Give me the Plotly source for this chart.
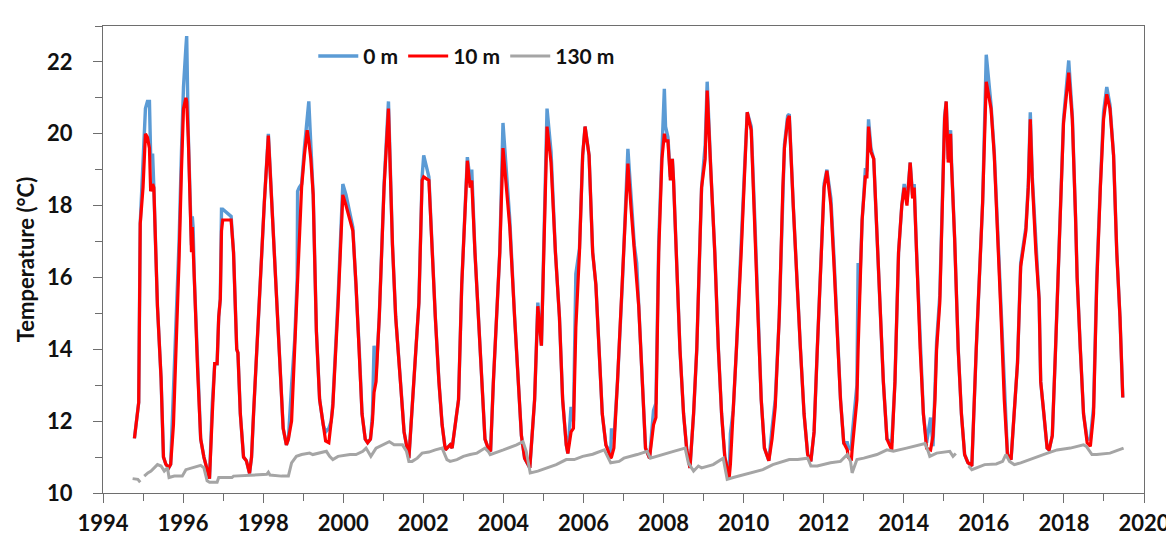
import plotly.graph_objects as go

# ---- Surface (0 m) and 10 m series: decimal year, temperature (degC) ----
years_surface = [
    1994.785, 1994.892, 1994.93, 1995.00, 1995.06, 1995.11, 1995.16, 1995.19, 1995.24, 1995.27, 1995.36, 1995.45, 1995.51, 1995.57, 1995.64, 1995.69,
    1995.76, 1995.83, 1995.90, 1995.96, 1996.01, 1996.07, 1996.09, 1996.13, 1996.19, 1996.21, 1996.23, 1996.25, 1996.28, 1996.36, 1996.44, 1996.52, 1996.60, 1996.66,
    1996.73, 1996.79, 1996.85, 1996.89, 1996.93, 1996.96, 1996.99, 1997.10, 1997.20, 1997.26, 1997.32, 1997.34, 1997.37, 1997.43, 1997.51, 1997.58, 1997.66,
    1997.71, 1997.76, 1997.87, 1997.95, 1998.03, 1998.13, 1998.22, 1998.30, 1998.38, 1998.45, 1998.50, 1998.58,
    1998.63, 1998.71, 1998.79, 1998.85, 1998.86, 1998.90, 1998.96, 1999.03, 1999.10, 1999.14, 1999.19, 1999.25, 1999.33, 1999.41, 1999.50, 1999.56, 1999.64,
    1999.70, 1999.74, 1999.87, 1999.99, 2000.07, 2000.24, 2000.32, 2000.40, 2000.47, 2000.55, 2000.61,
    2000.68, 2000.73, 2000.77, 2000.82, 2000.90, 2001.02, 2001.13, 2001.23, 2001.31, 2001.43, 2001.52, 2001.64,
    2001.72, 2001.81, 2001.89, 2001.97, 2002.01, 2002.14, 2002.22, 2002.30, 2002.39, 2002.47, 2002.55, 2002.67, 2002.72,
    2002.88, 2002.96, 2003.05, 2003.10, 2003.17, 2003.21, 2003.29, 2003.38, 2003.46, 2003.54, 2003.62, 2003.68,
    2003.75, 2003.83, 2003.91, 2003.99, 2004.08, 2004.16, 2004.28, 2004.37, 2004.45, 2004.53, 2004.66,
    2004.78, 2004.86, 2004.95, 2005.03, 2005.09, 2005.19, 2005.30, 2005.40, 2005.48, 2005.57, 2005.61,
    2005.69, 2005.75, 2005.81, 2005.90, 2005.98, 2006.04, 2006.14, 2006.23, 2006.31, 2006.39, 2006.47, 2006.56,
    2006.68, 2006.70, 2006.76, 2006.85, 2006.97, 2007.11, 2007.19, 2007.27, 2007.33, 2007.38, 2007.46, 2007.55, 2007.65,
    2007.75, 2007.81, 2007.88, 2007.96, 2008.02, 2008.05, 2008.11, 2008.17, 2008.22, 2008.25, 2008.33, 2008.41, 2008.50, 2008.58, 2008.66,
    2008.75, 2008.83, 2008.95, 2009.04, 2009.09, 2009.18, 2009.28, 2009.37, 2009.45, 2009.53, 2009.64,
    2009.67, 2009.74, 2009.82, 2009.94, 2010.03, 2010.09, 2010.19, 2010.28, 2010.36, 2010.44, 2010.52, 2010.63,
    2010.71, 2010.79, 2010.89, 2010.98, 2011.02, 2011.10, 2011.14, 2011.24, 2011.32, 2011.42, 2011.51, 2011.60, 2011.68,
    2011.76, 2011.84, 2011.93, 2012.01, 2012.08, 2012.18, 2012.26, 2012.34, 2012.42, 2012.50, 2012.59, 2012.61, 2012.69,
    2012.71, 2012.83, 2012.86, 2012.88, 2012.96, 2013.04, 2013.08, 2013.12, 2013.18, 2013.25, 2013.33, 2013.41, 2013.49, 2013.58, 2013.70,
    2013.78, 2013.87, 2013.95, 2014.01, 2014.08, 2014.12, 2014.16, 2014.22, 2014.26, 2014.32, 2014.41, 2014.49, 2014.57, 2014.67,
    2014.73, 2014.78, 2014.82, 2014.90, 2014.98, 2015.02, 2015.06, 2015.11, 2015.17, 2015.19, 2015.27, 2015.36, 2015.44, 2015.52, 2015.60,
    2015.70, 2015.81, 2015.89, 2015.97, 2016.06, 2016.18, 2016.26, 2016.35, 2016.43, 2016.51, 2016.59, 2016.68,
    2016.76, 2016.84, 2016.92, 2017.05, 2017.11, 2017.16, 2017.21, 2017.30, 2017.38, 2017.42, 2017.50, 2017.58, 2017.63,
    2017.71, 2017.79, 2017.87, 2017.99, 2018.12, 2018.21, 2018.29, 2018.33, 2018.41, 2018.49, 2018.58, 2018.66,
    2018.74, 2018.82, 2018.91, 2018.99, 2019.07, 2019.15, 2019.24, 2019.32, 2019.40, 2019.47,
]

temp_10m = [
    11.52, 12.52, 17.5, 18.5, 20.0, 19.9, 19.6, 18.4, 18.6, 18.5, 15.2, 13.2, 11.0, 10.8, 10.7, 10.8,
    11.9, 14.0, 16.5, 19.0, 20.7, 21.0, 20.9, 19.9, 17.7, 16.7, 17.4, 17.0, 16.0, 13.5, 11.5, 11.0, 10.7, 10.4,
    12.2, 13.6, 13.6, 14.9, 15.4, 17.3, 17.6, 17.6, 17.6, 16.7, 14.1, 14.0, 13.9, 12.2, 11.0, 10.9, 10.55,
    11.0, 12.2, 14.6, 16.7, 18.1, 19.95, 18.0, 16.2, 14.5, 12.7, 11.8, 11.34,
    11.5, 12.0, 14.0, 15.8, 16.0, 17.2, 18.5, 19.4, 20.1, 19.8, 19.3, 18.3, 14.5, 12.6, 11.9, 11.45, 11.4,
    11.9, 12.4, 15.2, 18.3, 18.0, 17.3, 15.8, 14.0, 12.2, 11.5, 11.4,
    11.5, 12.0, 12.8, 13.1, 14.9, 18.5, 20.7, 16.9, 14.9, 13.1, 11.7, 10.97,
    12.3, 14.0, 15.3, 18.7, 18.8, 18.7, 16.7, 14.9, 13.1, 11.9, 11.2, 11.34, 11.25,
    12.6, 15.8, 18.1, 19.25, 18.5, 18.7, 16.7, 14.9, 13.1, 11.5, 11.25, 11.16,
    13.1, 14.9, 16.7, 19.6, 18.5, 17.4, 14.9, 13.1, 11.6, 10.97, 10.70,
    12.6, 15.2, 14.1, 17.6, 20.2, 19.2, 16.7, 14.9, 12.6, 11.34, 11.1,
    11.7, 11.8, 14.6, 16.7, 19.4, 20.2, 19.4, 16.7, 15.8, 14.0, 12.2, 11.34,
    10.97, 11.0, 11.25, 13.1, 15.8, 19.17, 17.9, 16.6, 15.9, 15.2, 13.1, 11.25, 10.97,
    11.9, 12.1, 16.7, 19.3, 20.0, 19.8, 19.8, 18.7, 19.3, 18.7, 16.3, 14.0, 12.2, 11.2, 10.7,
    12.2, 14.0, 18.5, 19.3, 21.2, 19.0, 16.7, 14.0, 12.2, 11.0, 10.43,
    10.8, 12.2, 14.0, 16.7, 19.2, 20.6, 20.1, 17.6, 14.9, 12.6, 11.25, 10.9,
    11.5, 12.4, 14.9, 18.5, 19.6, 20.4, 20.5, 18.0, 16.1, 14.0, 12.2, 11.07, 10.88,
    11.7, 14.0, 16.7, 18.5, 18.97, 18.0, 16.3, 14.4, 12.6, 11.4, 11.2, 11.0, 10.9,
    11.2, 12.6, 14.0, 14.9, 17.6, 18.8, 18.8, 20.2, 19.5, 19.3, 17.2, 14.9, 13.1, 11.5, 11.2,
    13.1, 16.7, 18.0, 18.5, 18.0, 18.5, 19.2, 18.2, 18.5, 16.7, 14.0, 12.2, 11.25, 11.2,
    11.6, 12.6, 14.0, 15.3, 18.5, 20.4, 20.9, 19.2, 20.0, 19.2, 17.1, 14.0, 12.2, 11.07, 10.85,
    10.75, 14.0, 16.3, 18.1, 21.45, 20.7, 19.4, 17.2, 14.9, 12.6, 11.07, 10.93,
    12.2, 13.6, 16.3, 17.3, 18.5, 20.4, 18.7, 16.7, 15.4, 13.1, 12.2, 11.25, 11.2,
    11.6, 13.98, 16.7, 20.3, 21.7, 20.4, 17.7, 16.0, 14.0, 12.2, 11.4, 11.3,
    12.2, 15.8, 18.5, 20.4, 21.1, 20.7, 19.4, 16.7, 14.9, 12.66,
]

temp_0m = [
    11.52, 12.52, 17.5, 19.2, 20.7, 20.9, 20.9, 19.4, 19.4, 18.5, 15.2, 13.2, 11.0, 10.8, 10.7, 10.8,
    12.8, 14.6, 17.0, 19.5, 21.3, 22.4, 22.72, 20.0, 17.7, 16.9, 17.7, 17.4, 16.0, 13.5, 11.5, 11.0, 10.7, 10.4,
    12.5, 13.6, 13.6, 14.9, 15.4, 17.9, 17.9, 17.8, 17.7, 16.7, 14.1, 14.0, 13.9, 12.2, 11.0, 10.9, 10.55,
    11.0, 12.2, 14.6, 16.7, 18.1, 20.0, 18.0, 16.2, 14.5, 12.7, 11.8, 11.34,
    11.5, 13.0, 14.3, 16.0, 18.4, 18.5, 18.6, 19.6, 20.5, 20.9, 19.7, 18.3, 14.5, 12.6, 11.9, 11.7, 11.8,
    12.0, 12.5, 15.4, 18.6, 18.3, 17.4, 15.8, 14.0, 12.2, 11.5, 11.4,
    11.5, 12.2, 14.1, 13.3, 14.9, 18.6, 20.9, 16.9, 14.9, 13.1, 11.7, 10.97,
    12.3, 14.0, 15.3, 18.8, 19.4, 18.8, 16.7, 14.9, 13.1, 11.9, 11.2, 11.34, 11.25,
    12.6, 15.8, 18.1, 19.35, 18.7, 19.0, 16.7, 14.9, 13.1, 11.5, 11.25, 11.16,
    13.1, 14.9, 16.7, 20.3, 18.8, 17.6, 14.9, 13.1, 11.6, 10.97, 10.70,
    12.6, 15.3, 14.1, 17.6, 20.7, 19.5, 16.7, 14.9, 12.6, 11.34, 11.1,
    12.4, 12.0, 16.1, 16.8, 19.4, 20.2, 19.4, 16.7, 15.8, 14.0, 12.2, 11.34,
    11.1, 11.8, 11.5, 13.1, 15.8, 19.58, 18.2, 16.9, 16.4, 15.2, 13.1, 11.25, 10.97,
    12.3, 12.5, 17.0, 19.5, 21.25, 20.2, 19.9, 18.8, 19.3, 18.7, 16.3, 14.0, 12.2, 11.2, 10.7,
    12.2, 14.0, 18.5, 19.7, 21.45, 19.0, 16.7, 14.0, 12.2, 11.0, 10.5,
    11.65, 12.3, 14.0, 16.7, 19.2, 20.6, 20.2, 17.6, 14.9, 12.6, 11.25, 10.9,
    11.8, 12.6, 14.9, 18.5, 19.7, 20.5, 20.55, 18.0, 16.1, 14.0, 12.2, 11.07, 10.88,
    11.7, 14.0, 16.7, 18.6, 19.0, 18.2, 16.5, 14.4, 12.6, 11.4, 11.4, 11.3, 11.2,
    11.6, 13.0, 16.4, 15.2, 17.6, 19.0, 19.0, 20.4, 19.6, 19.3, 17.2, 14.9, 13.1, 11.5, 11.4,
    13.1, 16.7, 18.0, 18.6, 18.1, 18.6, 19.2, 18.3, 18.6, 16.7, 14.0, 12.2, 11.4, 12.1,
    11.3, 12.8, 14.2, 15.5, 18.6, 20.5, 20.9, 19.3, 20.1, 19.3, 17.1, 14.0, 12.2, 11.07, 10.85,
    10.75, 14.0, 16.3, 18.1, 22.2, 20.8, 19.5, 17.2, 14.9, 12.6, 11.07, 10.93,
    12.2, 13.6, 16.4, 17.4, 18.6, 20.6, 18.8, 16.8, 15.4, 13.1, 12.2, 11.25, 11.2,
    11.6, 13.98, 16.8, 20.4, 22.04, 20.5, 17.7, 16.0, 14.0, 12.2, 11.5, 11.5,
    12.4, 16.0, 18.6, 20.6, 21.3, 20.8, 19.4, 16.7, 14.9, 12.66,
]

# ---- 130 m series (None = gap in record) ----
years_130m = [
    1994.74, 1994.87, 1994.93, 1994.98, 1995.03, 1995.12, 1995.20, 1995.28, 1995.36, 1995.45, 1995.53, 1995.61, 1995.65,
    1995.78, 1995.98, 1996.07, 1996.23, 1996.44, 1996.52, 1996.60, 1996.66, 1996.85, 1996.89, 1997.22, 1997.26,
    1998.09, 1998.13, 1998.17, 1998.46, 1998.63, 1998.71, 1998.83, 1998.96, 1999.16, 1999.24, 1999.41, 1999.58,
    1999.66, 1999.74, 1999.87, 2000.17, 2000.32, 2000.49, 2000.57, 2000.69, 2000.82, 2000.98, 2001.15, 2001.27,
    2001.48, 2001.58, 2001.64, 2001.72, 2001.85, 2001.97, 2002.14, 2002.30, 2002.47, 2002.59, 2002.67, 2002.84,
    2003.00, 2003.17, 2003.34, 2003.54, 2003.62, 2003.67, 2003.79, 2004.00, 2004.33, 2004.49, 2004.57, 2004.67,
    2004.86, 2005.07, 2005.32, 2005.57, 2005.77, 2005.98, 2006.23, 2006.52, 2006.68, 2006.89, 2007.01, 2007.34,
    2007.59, 2007.67, 2007.84, 2008.25, 2008.54, 2008.62, 2008.75, 2008.87, 2008.95, 2009.24, 2009.49, 2009.59,
    2009.74, 2010.07, 2010.48, 2010.73, 2011.14, 2011.35, 2011.60, 2011.68, 2011.84, 2012.17, 2012.42, 2012.59,
    2012.67, 2012.71, 2012.83, 2013.00, 2013.33, 2013.58, 2013.74, 2014.07, 2014.40, 2014.53, 2014.61, 2014.65,
    2014.82, 2015.15, 2015.23, 2015.30, 2015.40, 2015.62, 2015.70, 2016.02, 2016.31, 2016.47, 2016.55, 2016.64,
    2016.76, 2016.92, 2017.13, 2017.34, 2017.59, 2017.83, 2018.16, 2018.49, 2018.56, 2018.70, 2018.82, 2019.15,
    2019.49,
]

temp_130m = [
    10.40, 10.38, 10.30, None, 10.47, 10.56, 10.61, 10.70, 10.79, 10.75, 10.61, 10.70, 10.43,
    10.47, 10.47, 10.65, 10.70, 10.77, 10.70, 10.34, 10.30, 10.30, 10.43, 10.43, 10.47,
    10.52, 10.58, 10.50, 10.47, 10.47, 10.84, 11.02, 11.07, 11.11, 11.07, 11.11, 11.16,
    11.02, 10.93, 11.02, 11.07, 11.07, 11.16, 11.25, 11.02, 11.25, 11.34, 11.43, 11.34,
    11.34, 11.16, 10.88, 10.88, 10.97, 11.11, 11.14, 11.20, 11.25, 10.93, 10.88, 10.93,
    11.02, 11.07, 11.11, 11.25, 11.16, 11.07, 11.11, 11.20, 11.34, 11.43, 11.16, 10.56,
    10.61, 10.70, 10.79, 10.93, 10.93, 11.02, 11.08, 11.20, 10.84, 10.88, 10.97, 11.07,
    11.16, 10.97, 11.02, 11.16, 11.25, 10.84, 10.61, 10.75, 10.70, 10.79, 10.97, 10.38,
    10.43, 10.52, 10.65, 10.79, 10.93, 10.93, 10.97, 10.75, 10.75, 10.84, 10.88, 11.07,
    10.88, 10.56, 10.93, 10.97, 11.07, 11.20, 11.16, 11.25, 11.34, 11.38, 11.16, 11.02,
    11.11, 11.16, 11.02, 11.10, None, 10.75, 10.65, 10.79, 10.81, 10.88, 11.07, 10.88,
    10.79, 10.84, 10.93, 11.02, 11.11, 11.20, 11.25, 11.34, 11.30, 11.07, 11.07, 11.11,
    11.25,
]

series_names = ["0 m", "10 m", "130 m"]
series_colors = ["#5B9BD5", "#FF0000", "#A5A5A5"]

x_ticks = list(range(1994, 2021, 2))
y_ticks = list(range(10, 23, 2))

FONT = "Lato"

fig = go.Figure()
fig.add_trace(go.Scatter(x=years_surface, y=temp_0m, mode="lines", name=series_names[0],
                         line=dict(color=series_colors[0], width=3.4)))
fig.add_trace(go.Scatter(x=years_surface, y=temp_10m, mode="lines", name=series_names[1],
                         line=dict(color=series_colors[1], width=3.2)))
fig.add_trace(go.Scatter(x=years_130m, y=temp_130m, mode="lines", name=series_names[2],
                         line=dict(color=series_colors[2], width=3), connectgaps=False))

axis_common = dict(
    showgrid=False, zeroline=False, showline=True, linecolor="#6e6e6e", linewidth=1,
    mirror=True, ticks="outside", ticklen=9, tickcolor="#6e6e6e", tickwidth=1,
    tickfont=dict(family=FONT, size=22, color="#111111", weight="bold"),
)

fig.update_layout(
    width=1174, height=540,
    margin=dict(l=95, r=28, t=18, b=46),
    paper_bgcolor="white", plot_bgcolor="white",
    font=dict(family=FONT, color="#111111"),
    showlegend=True,
    legend=dict(orientation="h", x=0.202, xanchor="left", y=0.935, yanchor="middle",
                font=dict(family=FONT, size=21, color="#111111", weight="bold"),
                bgcolor="rgba(255,255,255,0)", itemwidth=40, tracegroupgap=0),
    xaxis=dict(range=[1994, 2020], tickmode="array", tickvals=x_ticks,
               ticktext=[str(v) for v in x_ticks],
               minor=dict(dtick=1, tick0=1994, ticks="outside", ticklen=7, tickcolor="#6e6e6e"),
               ticklabelstandoff=2, **axis_common),
    yaxis=dict(range=[10, 23], tickmode="array", tickvals=y_ticks,
               ticktext=[str(v) for v in y_ticks],
               minor=dict(dtick=1, tick0=10, ticks="outside", ticklen=7, tickcolor="#6e6e6e"),
               ticklabelstandoff=16,
               title=dict(text="Temperature (°C)", standoff=6,
                          font=dict(family=FONT, size=22, color="#111111", weight="bold")),
               **axis_common),
)

fig.write_html("out.html")
